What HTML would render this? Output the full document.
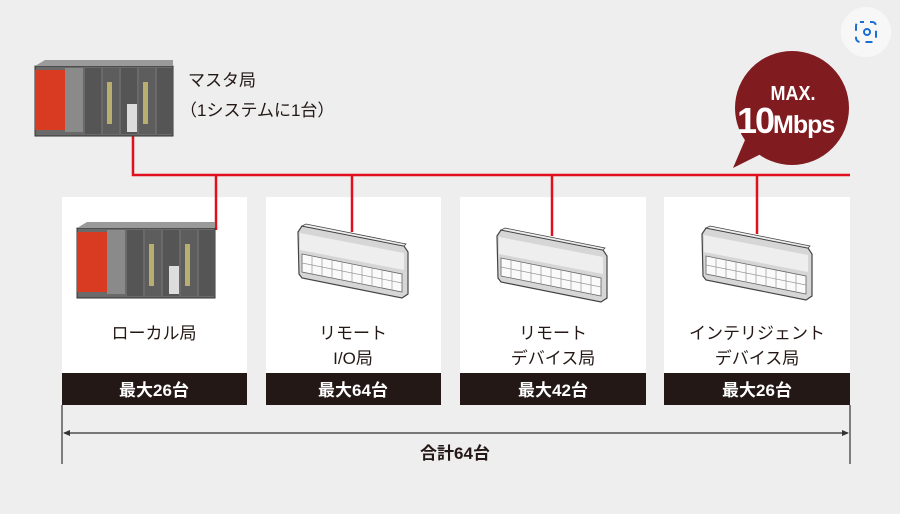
<!DOCTYPE html>
<html><head><meta charset="utf-8"><style>
body{margin:0;width:900px;height:514px;background:#eeeeee;overflow:hidden;font-family:"Liberation Sans","Noto Sans CJK JP",sans-serif;}
</style></head><body>
<svg width="900" height="514" viewBox="0 0 900 514" xmlns="http://www.w3.org/2000/svg" style="position:absolute;left:0;top:0">
<defs>
<g id="plc">
 <rect x="0" y="6" width="138" height="70" fill="#6a6a6a" stroke="#333" stroke-width="1"/>
 <polygon points="0,6 10,0 138,0 138,6" fill="#9a9a9a"/>
 <rect x="0" y="10" width="30" height="60" fill="#d83a22"/>
 <rect x="30" y="8" width="18" height="64" fill="#8a8a8a"/>
 <rect x="50" y="8" width="16" height="66" fill="#555"/>
 <rect x="68" y="8" width="16" height="66" fill="#5d5d5d"/>
 <rect x="86" y="8" width="16" height="66" fill="#555"/>
 <rect x="104" y="8" width="16" height="66" fill="#5d5d5d"/>
 <rect x="122" y="8" width="16" height="66" fill="#555"/>
 <rect x="72" y="22" width="5" height="42" fill="#b8ae70"/>
 <rect x="108" y="22" width="5" height="42" fill="#b8ae70"/>
 <rect x="92" y="44" width="10" height="28" fill="#ddd"/>
</g>
<g id="dev">
 <polygon points="0,8 4,2 106,22 110,28 110,70 104,74 4,54 1,50" fill="#d6d6d6" stroke="#444" stroke-width="1.2"/>
 <polygon points="4,2 8,0 108,20 106,22" fill="#eee" stroke="#444" stroke-width="0.8"/>
 <polygon points="2,9 106,29 106,46 2,26" fill="#eeeeee"/>
 <polygon points="4,30 104,50 104,68 4,48" fill="#fafafa" stroke="#666" stroke-width="0.8"/>
 <g stroke="#999" stroke-width="0.7">
  <line x1="4" y1="39" x2="104" y2="59"/>
  <line x1="14" y1="32" x2="14" y2="50"/><line x1="24" y1="34" x2="24" y2="52"/><line x1="34" y1="36" x2="34" y2="54"/>
  <line x1="44" y1="38" x2="44" y2="56"/><line x1="54" y1="40" x2="54" y2="58"/><line x1="64" y1="42" x2="64" y2="60"/>
  <line x1="74" y1="44" x2="74" y2="62"/><line x1="84" y1="46" x2="84" y2="64"/><line x1="94" y1="48" x2="94" y2="66"/>
 </g>
</g>
</defs>
<circle cx="866" cy="32" r="25" fill="#f7f7f7"/>
<rect x="856" y="22" width="20" height="20" rx="4" fill="none" stroke="#1a6fd0" stroke-width="2" stroke-dasharray="7 6" stroke-dashoffset="3"/>
<circle cx="867" cy="32" r="3" fill="none" stroke="#1a6fd0" stroke-width="2"/>
<circle cx="792" cy="108" r="57" fill="#801b20"/>
<polygon points="745,140 733,168 765,152" fill="#801b20"/>
<text x="793" y="100" fill="#fff" font-size="20" font-weight="bold" text-anchor="middle" transform="translate(793 0) scale(0.9 1) translate(-793 0)">MAX.</text>
<text x="737" y="133" fill="#fff" font-size="36" font-weight="bold" letter-spacing="-2">10<tspan font-size="25" letter-spacing="-1">Mbps</tspan></text>
<rect x="62" y="197" width="185" height="176" fill="#fff"/>
<rect x="266" y="197" width="175" height="176" fill="#fff"/>
<rect x="460" y="197" width="186" height="176" fill="#fff"/>
<rect x="664" y="197" width="186" height="176" fill="#fff"/>
<rect x="62" y="373" width="185" height="32" fill="#231815"/>
<rect x="266" y="373" width="175" height="32" fill="#231815"/>
<rect x="460" y="373" width="186" height="32" fill="#231815"/>
<rect x="664" y="373" width="186" height="32" fill="#231815"/>
<g stroke="#e0101e" stroke-width="2.5" fill="none">
<polyline points="133,135 133,175 850,175"/>
<line x1="216" y1="175" x2="216" y2="230"/>
<line x1="352" y1="175" x2="352" y2="232"/>
<line x1="552" y1="175" x2="552" y2="236"/>
<line x1="757" y1="175" x2="757" y2="234"/>
</g>
<use href="#plc" x="35" y="60"/>
<use href="#plc" x="77" y="222"/>
<use href="#dev" x="298" y="224"/>
<use href="#dev" x="497" y="228"/>
<use href="#dev" x="702" y="226"/>
<g font-size="17" fill="#231815">
<text x="188" y="86">マスタ局</text>
<text x="180" y="116">（1システムに1台）</text>
<g text-anchor="middle">
<text x="154" y="339">ローカル局</text>
<text x="353" y="339">リモート</text>
<text x="353" y="364">I/O局</text>
<text x="553" y="339">リモート</text>
<text x="553" y="364">デバイス局</text>
<text x="757" y="339">インテリジェント</text>
<text x="757" y="364">デバイス局</text>
<text x="455" y="459" font-weight="bold">合計64台</text>
</g>
</g>
<g font-size="17" fill="#fff" font-weight="bold" text-anchor="middle">
<text x="154" y="396">最大26台</text>
<text x="353" y="396">最大64台</text>
<text x="553" y="396">最大42台</text>
<text x="757" y="396">最大26台</text>
</g>
<g stroke="#333" stroke-width="1.2">
<line x1="62" y1="405" x2="62" y2="464"/>
<line x1="850" y1="405" x2="850" y2="464"/>
<line x1="64" y1="433" x2="848" y2="433"/>
</g>
<polygon points="63,433 70,430 70,436" fill="#333"/>
<polygon points="849,433 842,430 842,436" fill="#333"/>
</svg>
</body></html>
